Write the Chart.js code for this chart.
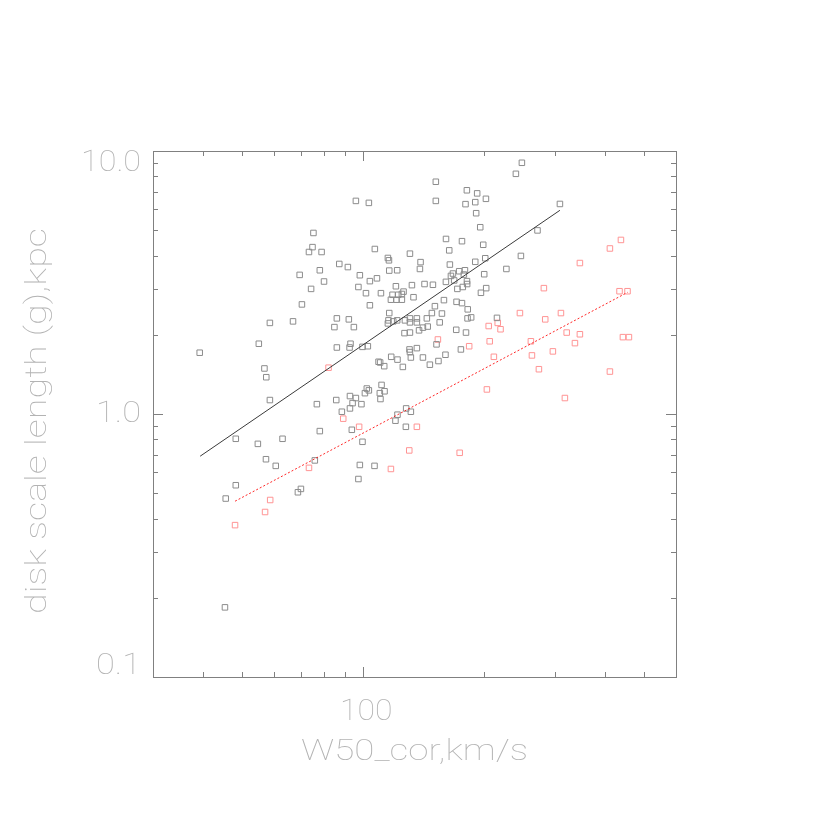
<!DOCTYPE html>
<html>
<head>
<meta charset="utf-8">
<title>disk scale length vs W50</title>
<script src="https://cdn.jsdelivr.net/npm/chart.js@4.4.1/dist/chart.umd.min.js"></script>
<style>
  html, body { margin: 0; padding: 0; background: #fff; }
  canvas { display: block; }
</style>
</head>
<body>
<canvas id="plot" width="830" height="830"></canvas>
<script>
// gray squares (all galaxies)
const grayW50 = [
  39.2, 55.0, 56.8, 57.4, 58.6, 86.0, 76.7, 85.7, 78.0, 48.2, 54.7, 63.0, 57.3, 60.6, 75.8, 48.2, 45.5, 70.0, 68.8, 45.3,
  58.6, 66.9, 69.5, 95.9, 103.3, 151.6, 151.6, 75.2, 74.8, 73.3, 78.8, 106.9, 115.2, 115.9, 130.7, 138.9, 138.4, 87.2, 91.6, 78.0,
  98.1, 79.9, 74.2, 103.9, 108.2, 116.1, 121.5, 97.3, 101.6, 110.7, 120.6, 126.0, 124.8, 132.2, 142.1, 149.1, 118.3, 122.2, 117.2, 121.0,
  124.8, 133.4, 70.4, 103.9, 150.8, 148.2, 116.1, 86.0, 92.1, 84.8, 94.8, 115.6, 115.2, 118.8, 121.5, 127.0, 130.7, 130.7, 136.0, 136.0,
  144.0, 144.7, 140.8, 155.0, 126.7, 130.7, 137.7, 93.0, 92.5, 99.6, 102.7, 130.4, 136.0, 152.2, 181.1, 179.7, 190.0, 191.0, 160.7, 176.1,
  163.7, 164.3, 190.0, 165.3, 167.2, 173.3, 179.1, 178.0, 160.6, 168.4, 171.5, 176.9, 181.4, 181.2, 158.8, 170.7, 176.1, 182.0, 157.0, 181.8,
  185.6, 170.4, 180.2, 248.2, 239.8, 192.1, 202.0, 308.6, 195.5, 271.4, 198.9, 201.2, 246.8, 227.1, 200.0, 196.3, 202.3, 215.2, 175.0, 109.2,
  110.2, 117.4, 112.8, 121.7, 125.5, 130.7, 131.4, 140.8, 146.5, 153.9, 160.2, 111.1, 102.1, 103.3, 113.0, 110.0, 101.0, 110.4, 92.7, 95.9,
  94.1, 99.0, 92.7, 88.5, 127.9, 131.4, 121.7, 120.3, 127.7, 93.7, 99.6, 98.1, 106.7, 97.3
];
const grayScale = [
  1.71, 1.85, 1.49, 1.38, 1.13, 1.79, 1.09, 1.13, 0.861, 0.805, 0.770, 0.805, 0.673, 0.635, 0.666, 0.536, 0.477, 0.519, 0.504, 0.184,
  2.22, 2.25, 3.38, 6.46, 6.35, 6.46, 7.64, 4.88, 4.31, 4.13, 4.13, 4.24, 3.92, 3.84, 4.07, 3.78, 3.56, 3.72, 3.62, 3.52,
  3.37, 3.19, 2.99, 3.20, 3.28, 3.51, 3.52, 3.04, 2.88, 2.88, 3.06, 2.92, 2.86, 3.09, 3.12, 3.10, 2.84, 2.84, 2.72, 2.72,
  2.72, 2.78, 2.61, 2.59, 2.57, 2.42, 2.42, 2.31, 2.29, 2.14, 2.14, 2.27, 2.21, 2.25, 2.27, 2.27, 2.31, 2.23, 2.31, 2.23,
  2.31, 2.15, 2.13, 2.23, 2.03, 2.04, 2.08, 1.85, 1.79, 1.80, 1.81, 1.76, 1.78, 1.84, 7.09, 6.28, 6.39, 5.80, 4.63, 4.54,
  4.19, 3.70, 3.79, 3.35, 3.42, 3.49, 3.52, 3.39, 3.18, 3.22, 2.99, 3.04, 3.12, 3.20, 2.71, 2.67, 2.64, 2.50, 2.41, 2.31,
  2.33, 2.09, 2.04, 9.02, 8.19, 6.90, 6.58, 6.29, 5.13, 4.99, 4.40, 3.91, 3.99, 3.56, 3.40, 2.89, 3.01, 2.32, 1.76, 1.58,
  1.57, 1.65, 1.52, 1.61, 1.51, 1.72, 1.64, 1.64, 1.54, 1.59, 1.68, 1.29, 1.25, 1.23, 1.22, 1.20, 1.20, 1.14, 1.17, 1.15,
  1.10, 1.09, 1.05, 1.02, 1.05, 1.02, 0.994, 0.943, 0.894, 0.871, 0.784, 0.640, 0.635, 0.566
];

// red squares (subsample)
const redW50 = [
  82.0, 73.3, 58.7, 57.0, 48.0, 153.4, 281.5, 245.4, 283.7, 310.4, 205.2, 216.1, 219.6, 320.8, 206.4, 183.5, 261.3, 296.4, 437.7, 410.9,
  346.0, 434.2, 454.5, 346.0, 336.3, 442.7, 458.2, 211.4, 262.9, 273.6, 410.9, 203.1, 317.5, 89.2, 136.0, 97.7, 130.2, 173.8, 117.2
];
const redScale = [
  1.50, 0.624, 0.471, 0.424, 0.378, 1.92, 3.01, 2.42, 2.29, 2.42, 2.16, 2.22, 2.10, 2.04, 1.89, 1.81, 1.89, 1.73, 4.59, 4.26,
  3.75, 2.93, 2.93, 2.01, 1.86, 1.96, 1.96, 1.65, 1.67, 1.48, 1.45, 1.24, 1.15, 0.960, 0.894, 0.894, 0.727, 0.712, 0.618
];

// fitted lines (end points)
const grayFitW50 = [39.3, 308.6];
const grayFitScale = [0.691, 5.95];
const redFitW50 = [48.0, 454.5];
const redFitScale = [0.466, 2.90];

// axes
const xRange = [30, 600];
const yRange = [0.1, 10];
const xMajorTicks = [100];
const xMajorLabels = ['100'];
const xMinorTicks = [40, 50, 60, 70, 80, 90, 200, 300, 400, 500];
const yMajorTicks = [10, 1, 0.1];
const yMajorLabels = ['10.0', '1.0', '0.1'];
const yMinorTicks = [0.2, 0.3, 0.4, 0.5, 0.6, 0.7, 0.8, 0.9, 2, 3, 4, 5, 6, 7, 8, 9];
const xTitle = 'W50_cor,km/s';
const yTitle = 'disk scale length (g),kpc';

const toPoints = (xs, ys) => xs.map((x, i) => ({ x, y: ys[i] }));

const axisColor = '#808080';
const textColor = '#b3b3b3';
const textFont = '100 30px Roboto, "Open Sans", sans-serif';

// text drawn stretched to a target width, like the vector font of the original
function drawText(ctx, text, x, y, width, rotate) {
  ctx.save();
  ctx.font = textFont;
  ctx.fillStyle = textColor;
  ctx.textAlign = 'center';
  ctx.textBaseline = 'middle';
  const sx = width / ctx.measureText(text).width;
  ctx.translate(x, y);
  if (rotate) ctx.rotate(-Math.PI / 2);
  ctx.scale(sx, 1);
  ctx.fillText(text, 0, 0);
  ctx.restore();
}

const frame = {
  id: 'frame',
  afterDraw(chart) {
    const { ctx, chartArea: a, scales: { x, y } } = chart;
    ctx.save();
    ctx.strokeStyle = axisColor;
    ctx.lineWidth = 1;
    ctx.strokeRect(a.left + 0.5, a.top + 0.5, a.right - a.left, a.bottom - a.top);

    const tick = (x1, y1, x2, y2) => {
      ctx.beginPath();
      ctx.moveTo(x1, y1);
      ctx.lineTo(x2, y2);
      ctx.stroke();
    };
    const xt = (v, len) => {
      const px = Math.round(x.getPixelForValue(v)) + 0.5;
      tick(px, a.bottom, px, a.bottom - len);
      tick(px, a.top, px, a.top + len);
    };
    const yt = (v, len) => {
      const py = Math.round(y.getPixelForValue(v)) + 0.5;
      tick(a.left, py, a.left + len, py);
      tick(a.right, py, a.right - len, py);
    };
    xMajorTicks.forEach(v => xt(v, 10));
    xMinorTicks.forEach(v => xt(v, 5));
    yMajorTicks.forEach(v => yt(v, 10));
    yMinorTicks.forEach(v => yt(v, 5));
    ctx.restore();

    // tick labels
    yMajorTicks.forEach((v, i) => {
      const label = yMajorLabels[i];
      const py = Math.min(Math.max(y.getPixelForValue(v), a.top + 12), a.bottom - 11);
      const w = label.length * 15;
      drawText(ctx, label, a.left - 12 - w / 2, py, w, false);
    });
    xMajorTicks.forEach((v, i) => {
      const label = xMajorLabels[i];
      drawText(ctx, label, x.getPixelForValue(v) + 3, a.bottom + 35, label.length * 17.5, false);
    });

    // axis titles
    drawText(ctx, xTitle, (a.left + a.right) / 2, a.bottom + 75, 227, false);
    drawText(ctx, yTitle, 38, (a.top + a.bottom) / 2 + 7, 386, true);
  }
};

new Chart(document.getElementById('plot'), {
  type: 'scatter',
  data: {
    datasets: [
      {
        type: 'line',
        data: toPoints(grayFitW50, grayFitScale),
        borderColor: '#3a3a3a',
        borderWidth: 1,
        pointRadius: 0,
        fill: false
      },
      {
        type: 'line',
        data: toPoints(redFitW50, redFitScale),
        borderColor: 'rgba(255,0,0,0.85)',
        borderWidth: 1,
        borderDash: [2, 2],
        pointRadius: 0,
        fill: false
      },
      {
        data: toPoints(grayW50, grayScale),
        pointStyle: 'rect',
        pointRadius: 3.9,
        borderColor: '#8c8c8c',
        borderWidth: 1,
        backgroundColor: 'rgba(0,0,0,0)'
      },
      {
        data: toPoints(redW50, redScale),
        pointStyle: 'rect',
        pointRadius: 3.9,
        borderColor: '#ff9494',
        borderWidth: 1,
        backgroundColor: 'rgba(0,0,0,0)'
      }
    ]
  },
  options: {
    responsive: false,
    devicePixelRatio: 1,
    animation: false,
    layout: { padding: { left: 153, right: 154, top: 151, bottom: 153 } },
    plugins: { legend: { display: false }, tooltip: { enabled: false } },
    scales: {
      x: { type: 'logarithmic', min: xRange[0], max: xRange[1], display: false },
      y: { type: 'logarithmic', min: yRange[0], max: yRange[1], display: false }
    }
  },
  plugins: [frame]
});
</script>
</body>
</html>
